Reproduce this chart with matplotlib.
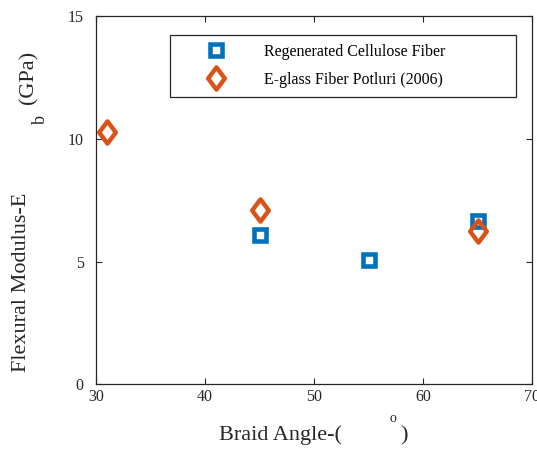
import matplotlib
matplotlib.use("Agg")
import matplotlib.pyplot as plt
from matplotlib.path import Path

# data
angle_rc = [45, 55, 65]
modulus_rc = [6.10, 5.05, 6.66]
angle_eg = [31, 45, 65]
modulus_eg = [10.26, 7.12, 6.25]

label_rc = "Regenerated Cellulose Fiber"
label_eg = "E-glass Fiber Potluri (2006)"

blue = "#0072BD"
orange = "#D95319"

plt.rcParams['font.family'] = ['Liberation Serif', 'DejaVu Serif']

# tall diamond like the matlab one
diamond = Path([(0, 1), (0.75, 0), (0, -1), (-0.75, 0), (0, 1)],
               [Path.MOVETO, Path.LINETO, Path.LINETO, Path.LINETO, Path.CLOSEPOLY])

fig = plt.figure(figsize=(5.37, 4.5), dpi=100)
ax = fig.add_axes([0.179, 0.1456, 0.8117, 0.8188])

ax.plot(angle_rc, modulus_rc, linestyle='none', marker='s', ms=8.0, mew=3.3,
        mec=blue, mfc='white', label=label_rc)
ax.plot(angle_eg, modulus_eg, linestyle='none', marker=diamond, ms=16, mew=3.2,
        mec=orange, mfc='none', label=label_eg)

ax.set_xlim(30, 70)
ax.set_ylim(0, 15)
ax.set_xticks([30, 40, 50, 60, 70])
ax.set_yticks([0, 5, 10, 15])
ax.tick_params(direction='in', top=True, right=True, length=4, width=0.8,
               labelsize=11.5, colors='#262626')
ax.tick_params(axis='x', pad=3)
ax.tick_params(axis='y', pad=9)
for s in ax.spines.values():
    s.set_linewidth(0.9)
    s.set_color('#262626')

leg = ax.legend(loc='upper left', bbox_to_anchor=(0.1697, 0.848, 0.794, 0.1),
                mode='expand', borderaxespad=0, fontsize=11.5, numpoints=1,
                borderpad=0.55, handlelength=4.7, handletextpad=0.6,
                labelspacing=0.75, fancybox=False, framealpha=1)
leg.get_frame().set_edgecolor('#262626')
leg.get_frame().set_linewidth(0.9)

# axis labels drawn in pieces, the way the original renders them
fig.text(21.5 / 537, 1 - 282.5 / 450, "Flexural Modulus-E", rotation=90,
         ha='center', va='center', fontsize=16, color='#262626')
fig.text(40 / 537, 1 - 120 / 450, "b", rotation=90,
         ha='center', va='center', fontsize=13, color='#262626')
fig.text(28.5 / 537, 1 - 77.5 / 450, "(GPa)", rotation=90,
         ha='center', va='center', fontsize=16, color='#262626')

fig.text(280 / 537, 1 - 435 / 450, "Braid Angle-(", ha='center', va='center',
         fontsize=16, color='#262626')
fig.text(393 / 537, 1 - 419 / 450, "o", ha='center', va='center',
         fontsize=10, color='#262626')
fig.text(404 / 537, 1 - 436 / 450, ")", ha='center', va='center',
         fontsize=16, color='#262626')

fig.savefig("out.png", dpi=100)
